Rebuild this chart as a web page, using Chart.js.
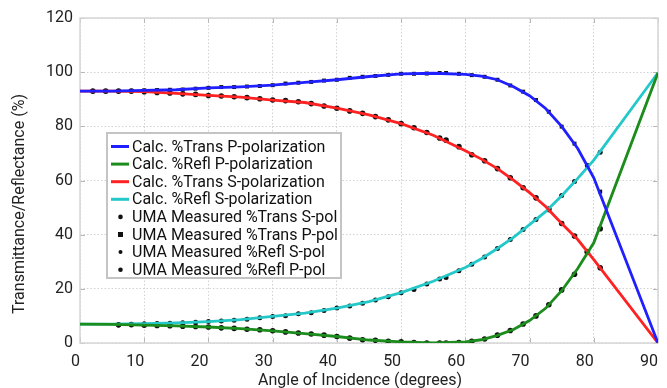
<!DOCTYPE html>
<html>
<head>
<meta charset="utf-8">
<script src="https://cdn.jsdelivr.net/npm/chart.js@4.4.1/dist/chart.umd.min.js"></script>
<style>
  html, body { margin: 0; padding: 0; background: #fff; }
  #wrap { width: 667px; height: 388px; }
</style>
</head>
<body>
<div id="wrap"><canvas id="myChart" width="667" height="388"></canvas></div>
<script>
// calculated curves (angle in degrees, value in %)
const calcAngles = [0, 5, 10, 15, 20, 25, 30, 35, 40, 45, 50, 55, 60, 62.5, 65, 67.5, 70, 72.5, 75, 77.5, 80, 90];
const calcTransP = [93.0, 93.0, 93.3, 93.5, 94.2, 94.6, 95.2, 96.2, 97.2, 98.4, 99.4, 99.6, 99.2, 98.5, 97.2, 94.6, 91.3, 86.6, 80.0, 71.8, 61.0, 0];
const calcReflP = [7.0, 6.9, 6.6, 6.3, 5.9, 5.3, 4.5, 3.5, 2.4, 1.1, 0.4, 0.0, 0.4, 1.2, 2.8, 5.0, 8.3, 12.8, 19.3, 27.5, 37.0, 99.8];
const calcTransS = [93.0, 93.0, 92.8, 92.2, 91.4, 90.8, 89.7, 88.8, 86.7, 84.2, 81.0, 76.7, 71.0, 67.9, 64.4, 60.1, 55.5, 50.4, 44.1, 38.2, 30.8, 0];
const calcReflS = [7.0, 7.0, 7.1, 7.4, 7.9, 8.6, 9.8, 11.0, 12.9, 15.3, 18.6, 22.8, 27.9, 31.1, 34.9, 39.0, 43.7, 48.5, 54.4, 60.8, 67.5, 99.8];

// UMA measurements
const measAnglesTrans = [2, 4, 6, 8, 10, 12, 14, 16, 18, 20, 22, 24, 26, 28, 30, 32, 34, 36, 38, 40, 42, 44, 46, 48, 50, 52, 54, 56, 57, 59, 61, 63, 65, 67, 69, 71, 73, 75, 77, 79, 81];
const measTransS = [93.0, 93.0, 93.0, 93.0, 92.8, 92.5, 92.3, 92.0, 91.8, 91.4, 91.2, 90.9, 90.6, 90.2, 89.7, 89.5, 89.1, 88.4, 87.5, 86.7, 85.7, 84.8, 83.6, 82.4, 81.0, 79.5, 77.7, 75.7, 74.9, 72.5, 69.5, 67.3, 64.4, 61.0, 57.3, 53.6, 49.3, 44.1, 39.5, 33.6, 27.8];
const measTransP = [93.0, 93.0, 93.0, 93.1, 93.3, 93.4, 93.5, 93.6, 93.9, 94.2, 94.5, 94.5, 94.7, 94.9, 95.2, 95.8, 96.1, 96.4, 96.9, 97.2, 97.9, 98.3, 98.6, 99.0, 99.4, 99.4, 99.5, 99.7, 99.7, 99.4, 98.9, 98.3, 97.2, 95.1, 92.8, 89.7, 85.4, 79.9, 73.6, 65.5, 55.9];
const measAnglesRefl = [6, 8, 10, 12, 14, 16, 18, 20, 22, 24, 26, 28, 30, 32, 34, 36, 38, 40, 42, 44, 46, 48, 50, 52, 54, 56, 57, 59, 61, 63, 65, 67, 69, 71, 73, 75, 77, 79, 81];
const measReflS = [6.7, 6.8, 7.1, 7.2, 7.3, 7.5, 7.7, 7.9, 8.1, 8.4, 8.8, 9.3, 9.8, 10.1, 10.8, 11.2, 12.0, 12.9, 13.7, 14.7, 15.9, 17.1, 18.6, 19.8, 21.8, 23.6, 24.2, 26.7, 29.1, 31.8, 34.9, 38.2, 41.9, 45.6, 49.6, 54.5, 59.6, 65.5, 70.4];
const measReflP = [6.7, 6.8, 6.6, 6.5, 6.4, 6.2, 6.1, 5.9, 5.6, 5.4, 5.1, 4.9, 4.5, 4.1, 3.7, 3.3, 2.9, 2.4, 1.8, 1.2, 1.0, 0.6, 0.4, 0.2, 0.0, 0.0, 0.0, 0.2, 0.6, 1.5, 2.9, 4.6, 7.0, 10.0, 14.1, 19.6, 25.4, 33.6, 42.2];

const seriesLabels = [
  'Calc. %Trans P-polarization',
  'Calc. %Refl P-polarization',
  'Calc. %Trans S-polarization',
  'Calc. %Refl S-polarization',
  'UMA Measured %Trans S-pol',
  'UMA Measured %Trans P-pol',
  'UMA Measured %Refl S-pol',
  'UMA Measured %Refl P-pol'
];
const xTickValues = [0, 10, 20, 30, 40, 50, 60, 70, 80, 90];
const yTickValues = [0, 20, 40, 60, 80, 100, 120];
const xTitle = 'Angle of Incidence (degrees)';
const yTitle = 'Transmittance/Reflectance (%)';

const FONT = 'Roboto';

function pts(xs, ys) {
  return xs.map((x, i) => ({ x: x, y: ys[i] }));
}

function calcSet(label, xs, ys, color) {
  return {
    label: label,
    data: pts(xs, ys),
    showLine: true,
    borderColor: color,
    backgroundColor: color,
    borderWidth: 2.8,
    pointRadius: 0,
    tension: 0
  };
}

function measSet(label, xs, ys, style, r) {
  return {
    label: label,
    data: pts(xs, ys),
    showLine: false,
    pointStyle: style,
    pointRadius: r,
    pointBorderWidth: 0,
    pointBackgroundColor: '#111',
    pointBorderColor: '#111'
  };
}

const datasets = [
  calcSet(seriesLabels[0], calcAngles, calcTransP, '#1f1fff'),
  calcSet(seriesLabels[1], calcAngles, calcReflP, '#1c8c1c'),
  calcSet(seriesLabels[2], calcAngles, calcTransS, '#ff2222'),
  calcSet(seriesLabels[3], calcAngles, calcReflS, '#24c8c8'),
  measSet(seriesLabels[4], measAnglesTrans, measTransS, 'circle', 2.8),
  measSet(seriesLabels[5], measAnglesTrans, measTransP, 'rect', 2.8),
  measSet(seriesLabels[6], measAnglesRefl, measReflS, 'circle', 2.5),
  measSet(seriesLabels[7], measAnglesRefl, measReflP, 'circle', 2.8)
];

// frame and small inner ticks like the original plot box
const framePlugin = {
  id: 'frame',
  beforeDatasetsDraw(chart) {
    const { ctx, chartArea: a, scales } = chart;
    ctx.save();
    ctx.strokeStyle = '#b8b8b8';
    ctx.lineWidth = 1;
    ctx.beginPath();
    scales.x.ticks.forEach(t => {
      const px = Math.round(scales.x.getPixelForValue(t.value)) + 0.5;
      ctx.moveTo(px, a.bottom); ctx.lineTo(px, a.bottom - 5);
      ctx.moveTo(px, a.top); ctx.lineTo(px, a.top + 5);
    });
    scales.y.ticks.forEach(t => {
      const py = Math.round(scales.y.getPixelForValue(t.value)) + 0.5;
      ctx.moveTo(a.left, py); ctx.lineTo(a.left + 5, py);
      ctx.moveTo(a.right, py); ctx.lineTo(a.right - 5, py);
    });
    ctx.stroke();
    ctx.strokeStyle = '#d6d6d6';
    ctx.lineWidth = 1.5;
    ctx.strokeRect(a.left, a.top, a.width, a.height);
    ctx.restore();
  }
};

// axis titles and the boxed legend inside the plot
const overlayPlugin = {
  id: 'overlay',
  afterDraw(chart) {
    const ctx = chart.ctx;
    ctx.save();
    ctx.fillStyle = '#222';
    ctx.font = '16px ' + FONT;
    ctx.textAlign = 'center';
    ctx.textBaseline = 'middle';
    ctx.fillText(xTitle, 360, 381);
    ctx.save();
    ctx.translate(20, 204);
    ctx.rotate(-Math.PI / 2);
    ctx.fillText(yTitle, 0, 0);
    ctx.restore();

    const lx = 107, ly = 133, lw = 234, lh = 145;
    ctx.fillStyle = '#fff';
    ctx.fillRect(lx, ly, lw, lh);
    ctx.strokeStyle = '#c4c4c4';
    ctx.lineWidth = 2;
    ctx.strokeRect(lx, ly, lw, lh);

    ctx.font = '16px ' + FONT;
    ctx.textAlign = 'left';
    chart.data.datasets.forEach((ds, i) => {
      const cy = 146.5 + i * 17.6;
      if (ds.showLine) {
        ctx.strokeStyle = ds.borderColor;
        ctx.lineWidth = 3;
        ctx.beginPath();
        ctx.moveTo(111, cy); ctx.lineTo(129, cy);
        ctx.stroke();
      } else {
        ctx.fillStyle = '#111';
        if (ds.pointStyle === 'rect') {
          ctx.fillRect(118, cy - 2.5, 5, 5);
        } else {
          ctx.beginPath();
          ctx.arc(120.5, cy, ds.pointRadius - 0.5, 0, Math.PI * 2);
          ctx.fill();
        }
      }
      ctx.fillStyle = '#111';
      ctx.fillText(ds.label, 132, cy + 1);
    });
    ctx.restore();
  }
};

const ctx = document.getElementById('myChart').getContext('2d');
const myChart = new Chart(ctx, {
  type: 'scatter',
  data: { datasets: datasets },
  options: {
    responsive: false,
    animation: false,
    devicePixelRatio: 1,
    layout: { padding: { top: 18, right: 4, left: 0, bottom: 0 } },
    plugins: {
      legend: { display: false },
      tooltip: { enabled: false }
    },
    scales: {
      x: {
        type: 'linear',
        min: 0,
        max: 90,
        afterBuildTicks: s => { s.ticks = xTickValues.map(v => ({ value: v })); },
        afterFit: s => { s.height = 45; },
        grid: { color: '#d2d2d2', drawTicks: false },
        border: { display: false, dash: [1.5, 2] },
        ticks: {
          align: 'end',
          padding: 9,
          color: '#222',
          font: { family: FONT, size: 16 }
        }
      },
      y: {
        type: 'linear',
        min: 0,
        max: 120,
        afterBuildTicks: s => { s.ticks = yTickValues.map(v => ({ value: v })); },
        afterFit: s => { s.width = 80; },
        grid: { color: '#d2d2d2', drawTicks: false },
        border: { display: false, dash: [1.5, 2] },
        ticks: {
          padding: 7,
          color: '#222',
          font: { family: FONT, size: 16 }
        }
      }
    }
  },
  plugins: [framePlugin, overlayPlugin]
});
</script>
</body>
</html>
